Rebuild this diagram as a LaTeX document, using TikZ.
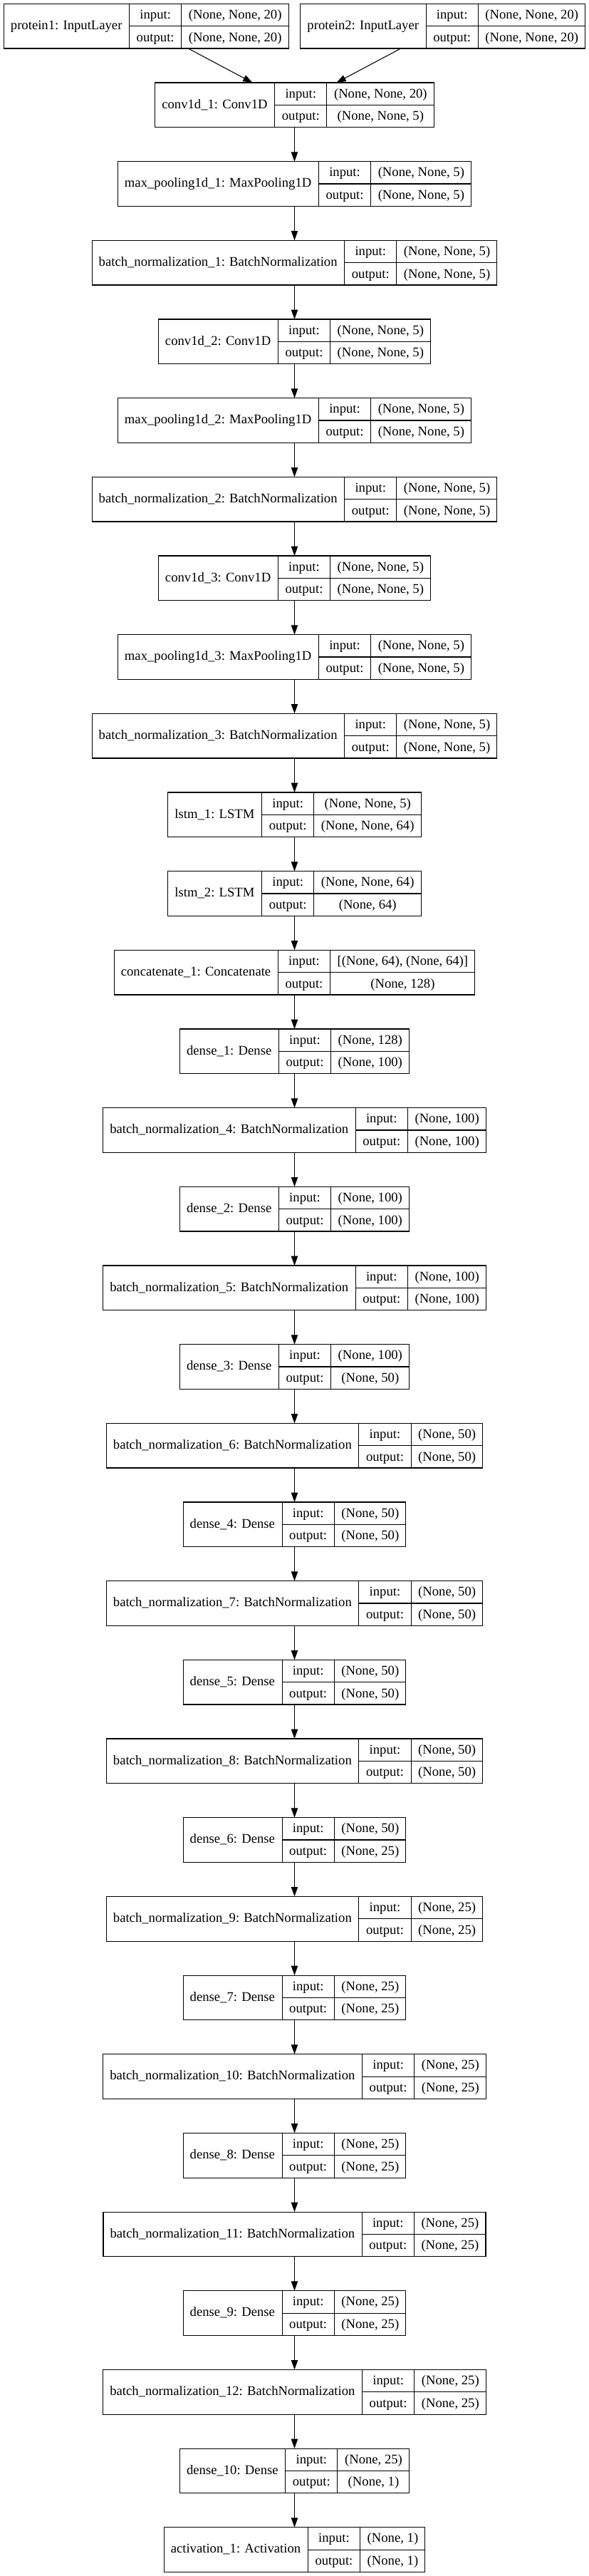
\documentclass[tikz,border=0pt]{standalone}
\usepackage{fontspec}
\usepackage{array}
\setmainfont{Liberation Serif}
\usetikzlibrary{chains,positioning,arrows.meta}
\tikzstyle{layer}=[draw,line width=0.8pt,inner sep=0pt,outer sep=0pt,fill=white]
\tikzstyle{flow}=[line width=0.8pt,-{Triangle[length=10pt,width=7pt]}]
\newlength{\cellpad}
\setlength{\cellpad}{7.2pt}
\setlength{\arrayrulewidth}{0.8pt}
\newcolumntype{C}{@{\hspace{\cellpad}}c@{\hspace{\cellpad}}}
\newcommand{\rowstrut}{\rule[-7.3pt]{0pt}{23.1pt}}
\newcommand{\kerasbox}[3]{%
  \begin{tabular}{C|@{}c@{}}
    #1 &
    \begin{tabular}{C|C}
      \rowstrut input: & #2\\ \hline
      \rowstrut output: & #3
    \end{tabular}
  \end{tabular}}
\renewcommand{\arraystretch}{0}

\begin{document}
\begin{tikzpicture}[font=\fontsize{14pt}{16.8pt}\selectfont]
\useasboundingbox (0,0) rectangle (620.25pt,-2711.25pt);
% the two inputs
\node [layer,anchor=north west] (protein1) at (4pt,-4pt) {\kerasbox{protein1: InputLayer}{(None, None, 20)}{(None, None, 20)}};
\node [layer,anchor=north east] (protein2) at (616.25pt,-4pt) {\kerasbox{protein2: InputLayer}{(None, None, 20)}{(None, None, 20)}};
\begin{scope}[start chain=net going below, node distance=36pt, every join/.style=flow]
    \node [on chain=net,layer,anchor=north] (conv1) at (310.125pt,-87pt) {\kerasbox{conv1d\_1: Conv1D}{(None, None, 20)}{(None, None, 5)}};
    \node [on chain=net,layer,join] (pool1) {\kerasbox{max\_pooling1d\_1: MaxPooling1D}{(None, None, 5)}{(None, None, 5)}};
    \node [on chain=net,layer,join] (norm1) {\kerasbox{batch\_normalization\_1: BatchNormalization}{(None, None, 5)}{(None, None, 5)}};
    \node [on chain=net,layer,join] (conv2) {\kerasbox{conv1d\_2: Conv1D}{(None, None, 5)}{(None, None, 5)}};
    \node [on chain=net,layer,join] (pool2) {\kerasbox{max\_pooling1d\_2: MaxPooling1D}{(None, None, 5)}{(None, None, 5)}};
    \node [on chain=net,layer,join] (norm2) {\kerasbox{batch\_normalization\_2: BatchNormalization}{(None, None, 5)}{(None, None, 5)}};
    \node [on chain=net,layer,join] (conv3) {\kerasbox{conv1d\_3: Conv1D}{(None, None, 5)}{(None, None, 5)}};
    \node [on chain=net,layer,join] (pool3) {\kerasbox{max\_pooling1d\_3: MaxPooling1D}{(None, None, 5)}{(None, None, 5)}};
    \node [on chain=net,layer,join] (norm3) {\kerasbox{batch\_normalization\_3: BatchNormalization}{(None, None, 5)}{(None, None, 5)}};
    \node [on chain=net,layer,join] (lstm1) {\kerasbox{lstm\_1: LSTM}{(None, None, 5)}{(None, None, 64)}};
    \node [on chain=net,layer,join] (lstm2) {\kerasbox{lstm\_2: LSTM}{(None, None, 64)}{(None, 64)}};
    \node [on chain=net,layer,join] (concat) {\kerasbox{concatenate\_1: Concatenate}{[(None, 64), (None, 64)]}{(None, 128)}};
    \node [on chain=net,layer,join] (dense1) {\kerasbox{dense\_1: Dense}{(None, 128)}{(None, 100)}};
    \node [on chain=net,layer,join] (norm4) {\kerasbox{batch\_normalization\_4: BatchNormalization}{(None, 100)}{(None, 100)}};
    \node [on chain=net,layer,join] (dense2) {\kerasbox{dense\_2: Dense}{(None, 100)}{(None, 100)}};
    \node [on chain=net,layer,join] (norm5) {\kerasbox{batch\_normalization\_5: BatchNormalization}{(None, 100)}{(None, 100)}};
    \node [on chain=net,layer,join] (dense3) {\kerasbox{dense\_3: Dense}{(None, 100)}{(None, 50)}};
    \node [on chain=net,layer,join] (norm6) {\kerasbox{batch\_normalization\_6: BatchNormalization}{(None, 50)}{(None, 50)}};
    \node [on chain=net,layer,join] (dense4) {\kerasbox{dense\_4: Dense}{(None, 50)}{(None, 50)}};
    \node [on chain=net,layer,join] (norm7) {\kerasbox{batch\_normalization\_7: BatchNormalization}{(None, 50)}{(None, 50)}};
    \node [on chain=net,layer,join] (dense5) {\kerasbox{dense\_5: Dense}{(None, 50)}{(None, 50)}};
    \node [on chain=net,layer,join] (norm8) {\kerasbox{batch\_normalization\_8: BatchNormalization}{(None, 50)}{(None, 50)}};
    \node [on chain=net,layer,join] (dense6) {\kerasbox{dense\_6: Dense}{(None, 50)}{(None, 25)}};
    \node [on chain=net,layer,join] (norm9) {\kerasbox{batch\_normalization\_9: BatchNormalization}{(None, 25)}{(None, 25)}};
    \node [on chain=net,layer,join] (dense7) {\kerasbox{dense\_7: Dense}{(None, 25)}{(None, 25)}};
    \node [on chain=net,layer,join] (norm10) {\kerasbox{batch\_normalization\_10: BatchNormalization}{(None, 25)}{(None, 25)}};
    \node [on chain=net,layer,join] (dense8) {\kerasbox{dense\_8: Dense}{(None, 25)}{(None, 25)}};
    \node [on chain=net,layer,join] (norm11) {\kerasbox{batch\_normalization\_11: BatchNormalization}{(None, 25)}{(None, 25)}};
    \node [on chain=net,layer,join] (dense9) {\kerasbox{dense\_9: Dense}{(None, 25)}{(None, 25)}};
    \node [on chain=net,layer,join] (norm12) {\kerasbox{batch\_normalization\_12: BatchNormalization}{(None, 25)}{(None, 25)}};
    \node [on chain=net,layer,join] (dense10) {\kerasbox{dense\_10: Dense}{(None, 25)}{(None, 1)}};
    \node [on chain=net,layer,join] (act1) {\kerasbox{activation\_1: Activation}{(None, 1)}{(None, 1)}};
\end{scope}
% both inputs feed the first convolution
\draw [flow] (protein1) -- (conv1);
\draw [flow] (protein2) -- (conv1);
\end{tikzpicture}
\end{document}
